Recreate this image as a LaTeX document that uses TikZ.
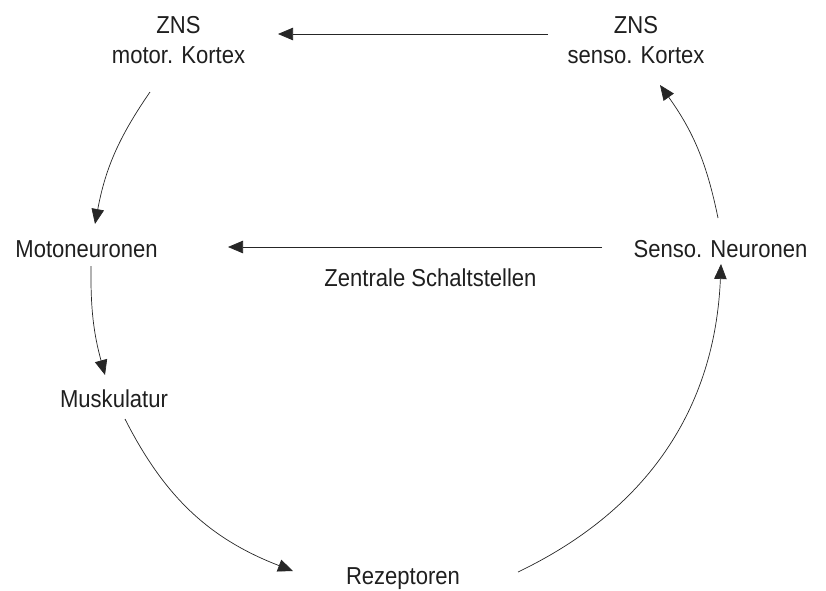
\documentclass[tikz,border=0pt]{standalone}
\usepackage{fontspec}
\setmainfont{Liberation Sans}[FakeStretch=0.9]
\usetikzlibrary{arrows.meta}
\begin{document}
\begin{tikzpicture}[x=1pt,y=1pt,
  lbl/.style={inner sep=0pt, text=black!88, font=\fontsize{24.5}{30}\selectfont, anchor=base},
  conn/.style={line width=0.7pt, draw=black!85, -{Triangle[length=15pt,width=12.5pt]}}]
\useasboundingbox (0,0) rectangle (826,-590);
% labels
\node[lbl, align=center] (mk) at (178.5,-63) {ZNS\\motor. Kortex};
\node[lbl, align=center] (sk) at (636,-63) {ZNS\\senso. Kortex};
\node[lbl] (mn) at (86.5,-257) {Motoneuronen};
\node[lbl] (sn) at (720.5,-257) {Senso. Neuronen};
\node[lbl] (zs) at (430.5,-286) {Zentrale Schaltstellen};
\node[lbl] (mu) at (114,-407) {Muskulatur};
\node[lbl] (re) at (403,-584) {Rezeptoren};
% connector ends
\coordinate (skW) at (548,-34);
\coordinate (mkE) at (278,-34);
\coordinate (snW) at (602,-247);
\coordinate (mnE) at (228,-247);
\coordinate (mkS) at (150,-92);
\coordinate (mnN) at (95,-224);
\coordinate (mnS) at (91,-266);
\coordinate (muN) at (105,-375);
\coordinate (muS) at (125,-419);
\coordinate (reW) at (293,-571);
\coordinate (reE) at (518,-572);
\coordinate (snS) at (721,-264);
\coordinate (snN) at (718,-218);
\coordinate (skS) at (660,-85);
% connectors
\draw[conn] (skW) -- (mkE);
\draw[conn] (snW) -- (mnE);
\draw[conn] (mkS) to[bend right=12] (mnN);
\draw[conn] (mnS) to[bend right=8] (muN);
\draw[conn] (muS) to[bend right=21] (reW);
\draw[conn] (reE) to[bend right=31] (snS);
\draw[conn] (snN) to[bend right=12] (skS);
\end{tikzpicture}
\end{document}
